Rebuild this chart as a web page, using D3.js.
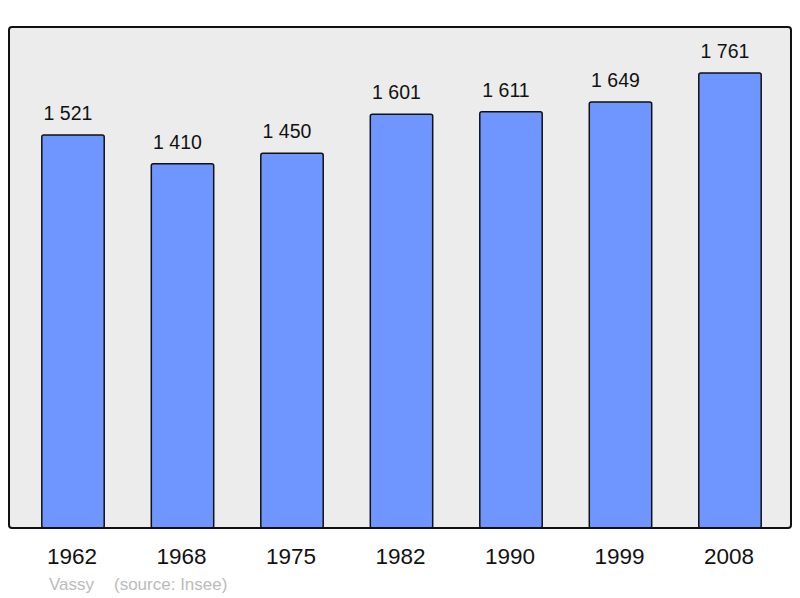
<!DOCTYPE html>
<html>
<head>
<meta charset="utf-8">
<script src="https://cdn.jsdelivr.net/npm/d3@7"></script>
<style>
  body { margin: 0; background: #fff; }
  text { font-family: "Liberation Sans", Arial, sans-serif; }
</style>
</head>
<body>
<div id="viz"></div>
<script>
var years = ["1962", "1968", "1975", "1982", "1990", "1999", "2008"];
var population = [1521, 1410, 1450, 1601, 1611, 1649, 1761];
var town = "Vassy";
var source = "(source: Insee)";

var width = 800, height = 598;
var frame = {left: 9, right: 791, top: 27, bottom: 528};

var data = years.map((y, i) => ({year: y, value: population[i]}));

var svg = d3.select('#viz').append('svg')
  .attr('width', width)
  .attr('height', height);

// bars sit between x=42 and x=761 inside the frame
var x = d3.scaleBand()
  .domain(years)
  .range([41.8, 761.2])
  .paddingInner(0.43)
  .paddingOuter(0);

var y = d3.scaleLinear()
  .domain([0, 1939])
  .range([frame.bottom, frame.top]);

// plot background
svg.append('rect')
  .attr('x', frame.left)
  .attr('y', frame.top)
  .attr('width', frame.right - frame.left)
  .attr('height', frame.bottom - frame.top)
  .attr('rx', 3)
  .attr('fill', '#ececec');

// bars
svg.append('g').selectAll('rect')
  .data(data)
  .join('rect')
  .attr('x', d => x(d.year))
  .attr('y', d => y(d.value))
  .attr('width', x.bandwidth())
  .attr('height', d => y(0) - y(d.value))
  .attr('rx', 2)
  .attr('fill', '#6f96ff')
  .attr('stroke', '#111')
  .attr('stroke-width', 1.5);

// value labels (slightly left of bar centre, as in the original)
svg.append('g').selectAll('text')
  .data(data)
  .join('text')
  .attr('x', d => x(d.year) + x.bandwidth() / 2 - 5)
  .attr('y', d => y(d.value) - 15)
  .attr('text-anchor', 'middle')
  .attr('font-size', 19.5)
  .attr('fill', '#111')
  .text(d => d3.format(',')(d.value).replace(',', ' '));

// frame border on top
svg.append('rect')
  .attr('x', frame.left)
  .attr('y', frame.top)
  .attr('width', frame.right - frame.left)
  .attr('height', frame.bottom - frame.top)
  .attr('rx', 3)
  .attr('fill', 'none')
  .attr('stroke', '#111')
  .attr('stroke-width', 2);

// year axis
var xAxis = svg.append('g')
  .attr('transform', `translate(0,${frame.bottom})`)
  .call(d3.axisBottom(x).tickSize(0).tickPadding(20));
xAxis.select('.domain').remove();
xAxis.selectAll('text')
  .attr('font-size', 22.5)
  .attr('fill', '#111')
  .attr('dx', -1)
  .attr('font-family', '"Liberation Sans", Arial, sans-serif');

// footer
svg.append('text')
  .attr('x', 49)
  .attr('y', 590)
  .attr('font-size', 17)
  .attr('fill', '#bbb')
  .text(town);

svg.append('text')
  .attr('x', 114)
  .attr('y', 590)
  .attr('font-size', 17)
  .attr('fill', '#bbb')
  .text(source);
</script>
</body>
</html>
